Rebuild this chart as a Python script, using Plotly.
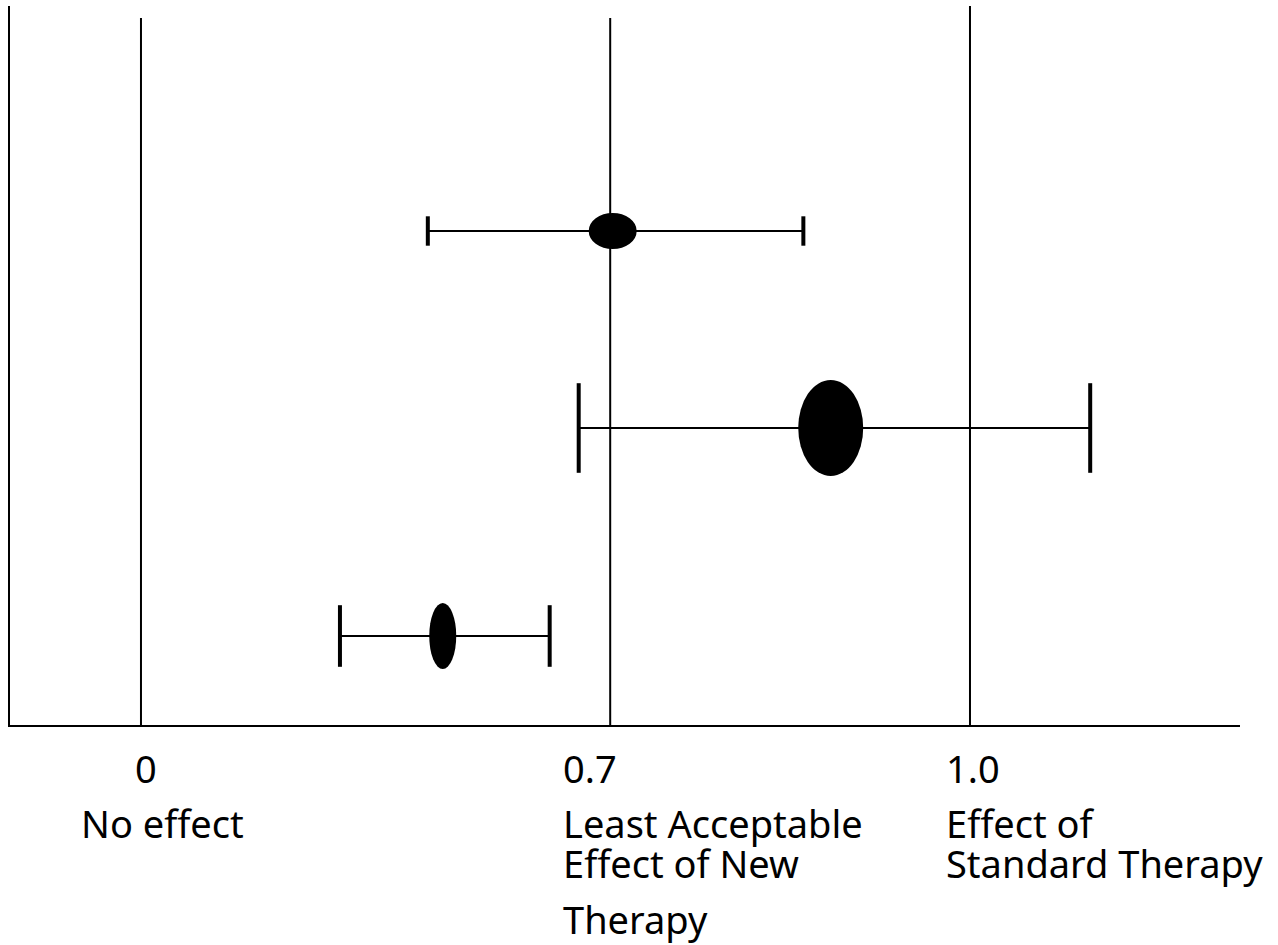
import plotly.graph_objects as go

# Schematic effect-scale positions (arbitrary units, 0 = no effect, 1 = standard therapy)
ref_line_pos = [0.0, 0.566, 1.0]
ref_line_top = [7.07, 7.07, 7.19]
ref_tick_labels = ["0", "0.7", "1.0"]
ref_desc_lines = [["No effect"],
                  ["Least Acceptable", "Effect of New", "Therapy"],
                  ["Effect of", "Standard Therapy"]]

# Three trial results: point estimate and confidence interval
trial_y = [4.94, 2.97, 0.89]
trial_est = [0.569, 0.832, 0.364]
trial_lo = [0.346, 0.528, 0.240]
trial_hi = [0.799, 1.145, 0.493]

# styling (pixel sizes)
ell_w = [48, 65, 27]
ell_h = [36, 96, 66]
cap_len = [21, 64, 44]

FONT = "Noto Sans"
FS = 38
fig = go.Figure()

for xp, top in zip(ref_line_pos, ref_line_top):
    fig.add_trace(go.Scatter(x=[xp, xp], y=[0, top], mode="lines",
                             line=dict(color="black", width=2),
                             hoverinfo="skip", showlegend=False))

for i in range(3):
    fig.add_trace(go.Scatter(
        x=[trial_est[i]], y=[trial_y[i]], mode="markers",
        marker=dict(size=1, color="rgba(0,0,0,0)"),
        error_x=dict(type="data", symmetric=False,
                     array=[trial_hi[i] - trial_est[i]],
                     arrayminus=[trial_est[i] - trial_lo[i]],
                     color="black", thickness=2, width=0),
        showlegend=False))
    fig.add_trace(go.Scatter(
        x=[trial_lo[i], trial_hi[i]], y=[trial_y[i], trial_y[i]], mode="markers",
        marker=dict(symbol="line-ns", size=cap_len[i],
                    line=dict(color="black", width=4)),
        showlegend=False))
    fig.add_shape(type="circle", xref="x", yref="y",
                  xsizemode="pixel", ysizemode="pixel",
                  xanchor=trial_est[i], yanchor=trial_y[i],
                  x0=-ell_w[i] / 2, x1=ell_w[i] / 2,
                  y0=-ell_h[i] / 2, y1=ell_h[i] / 2,
                  fillcolor="black", line=dict(color="black", width=0),
                  layer="above")

# labels below the axis
label_x_shift = [-62, -49, -26]
tick_y = 768
desc_y = [[823], [823, 863, 919], [823, 863]]
for k, xp in enumerate(ref_line_pos):
    if k == 0:
        fig.add_annotation(x=xp, y=0, xref="x", yref="paper", text=ref_tick_labels[k],
                           showarrow=False, xanchor="center", yanchor="middle",
                           xshift=5, yshift=-(tick_y - 725),
                           font=dict(family=FONT, size=FS, color="black"))
    else:
        fig.add_annotation(x=xp, y=0, xref="x", yref="paper", text=ref_tick_labels[k],
                           showarrow=False, xanchor="left", yanchor="middle",
                           xshift=label_x_shift[k], yshift=-(tick_y - 725),
                           font=dict(family=FONT, size=FS, color="black"))
    for line, yy in zip(ref_desc_lines[k], desc_y[k]):
        fig.add_annotation(x=xp, y=0, xref="x", yref="paper", text=line,
                           showarrow=False, xanchor="left", yanchor="middle",
                           xshift=label_x_shift[k], yshift=-(yy - 725),
                           font=dict(family=FONT, size=FS, color="black"))

fig.update_layout(
    width=1278, height=945,
    margin=dict(l=10, r=38, t=6, b=220),
    paper_bgcolor="white", plot_bgcolor="white",
    xaxis=dict(range=[-0.158, 1.3257], showgrid=False, zeroline=False,
               showticklabels=False, ticks="", showline=True,
               linecolor="black", linewidth=2),
    yaxis=dict(range=[0, 7.19], showgrid=False, zeroline=False,
               showticklabels=False, ticks="", showline=True,
               linecolor="black", linewidth=2),
    showlegend=False,
)

fig.write_html("out.html", config={"displayModeBar": False},
               post_script="document.body.style.margin='0';document.body.style.overflow='hidden';")
